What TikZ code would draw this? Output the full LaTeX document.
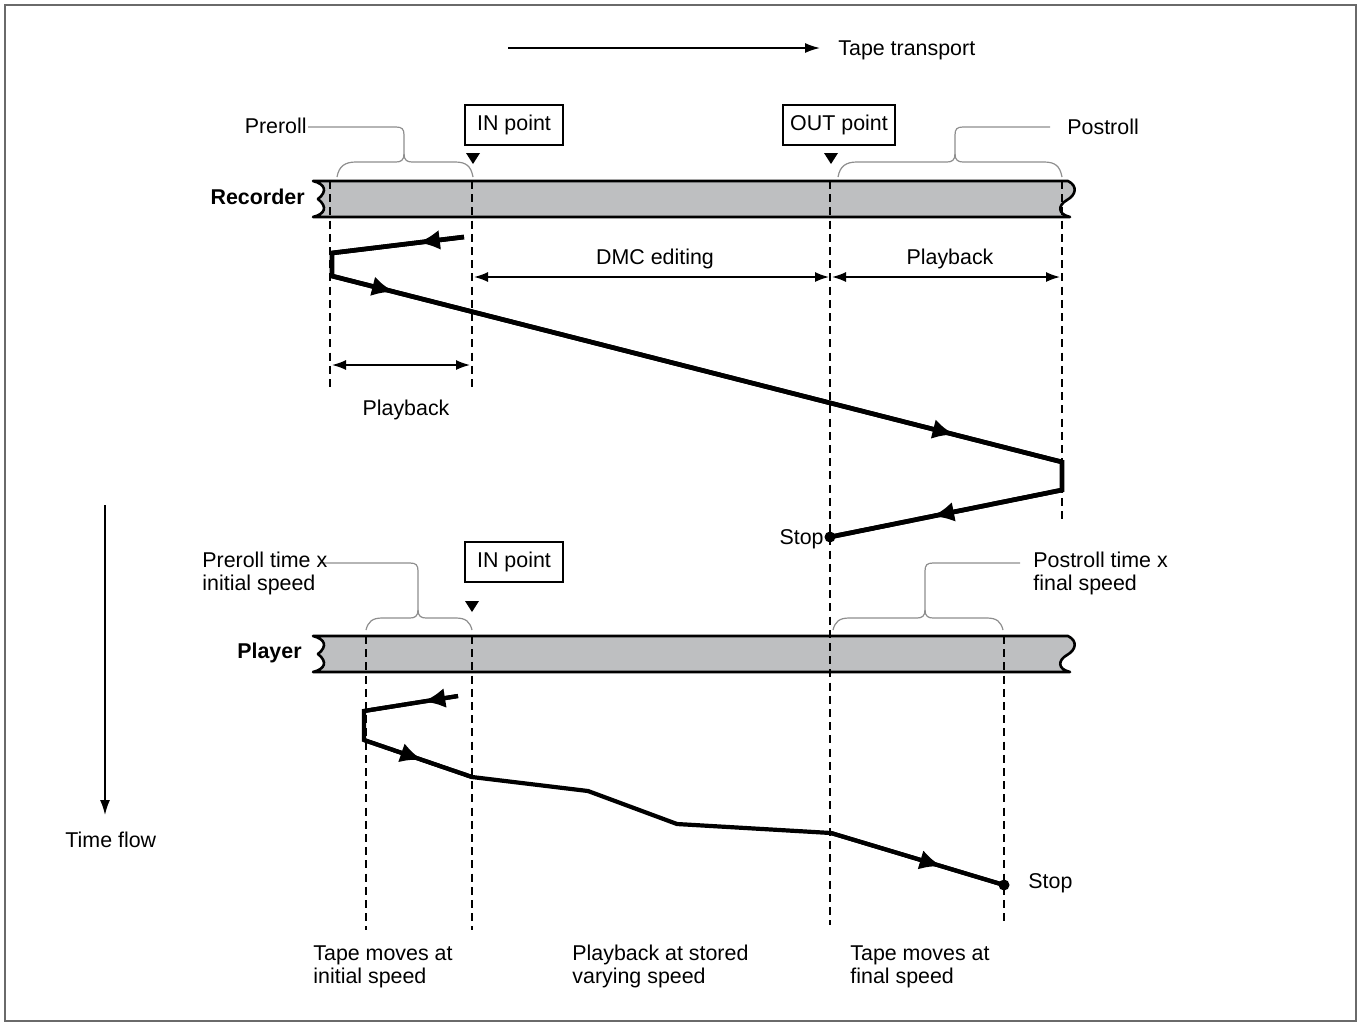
\documentclass[tikz,border=0pt]{standalone}
\usepackage{fontspec}
\setmainfont{Liberation Sans}
\usetikzlibrary{arrows.meta,decorations.markings}
\definecolor{tapegray}{HTML}{BEBFC1}
\definecolor{framegray}{HTML}{6A6A6A}
\definecolor{bracegray}{HTML}{8E8E8E}
\begin{document}
\begin{tikzpicture}[x=0.5pt,y=-0.5pt,
  txt/.style={inner sep=0pt,font=\fontsize{10.7}{12.8}\selectfont},
  lbl/.style={txt,anchor=base west},
  lblr/.style={txt,anchor=base east},
  lblc/.style={txt,anchor=base},
  boldlbl/.style={inner sep=0pt,anchor=base east,font=\fontsize{10.7}{12.8}\selectfont\bfseries},
  box/.style={draw,line width=0.6pt,inner sep=0pt,minimum height=20pt,font=\fontsize{10.7}{12.8}\selectfont},
  tape/.style={draw=black,fill=tapegray,line width=1.3pt,line join=round},
  guide/.style={draw=black,line width=0.9pt,dash pattern=on 4pt off 2.6pt},
  bracestyle/.style={draw=bracegray,line width=0.6pt},
  dim/.style={draw=black,line width=0.8pt,{Latex[length=7pt,width=5pt]}-{Latex[length=7pt,width=5pt]}},
  flow/.style={draw=black,line width=0.8pt,-{Latex[length=7.5pt,width=5pt]}},
  motion/.style={draw=black,line width=2.3pt,line join=miter},
  pmotion/.style={draw=black,line width=2.1pt,line join=miter},
  marker/.style={postaction={decorate,decoration={markings,mark=at position #1 with {\arrow{Latex[length=11pt,width=10pt]}}}}},
  tri/.style={fill=black}
]
\useasboundingbox (0,0) rectangle (1359,1024);
\draw[framegray,line width=1pt] (5,5) rectangle (1356,1021);

% tape transport arrow
\coordinate (tt0) at (508,48);
\coordinate (tt1) at (820,48);
\draw[flow] (tt0) -- (tt1);
\node[lbl] (tt) at (838,55.5) {Tape transport};

% tapes
\foreach \yy in {181,636}{
  \draw[tape] (313,\yy) -- (1068,\yy)
    .. controls (1078,{\yy+5}) and (1076,{\yy+14}) .. (1067,{\yy+19})
    .. controls (1058,{\yy+24}) and (1057,{\yy+33}) .. (1070,{\yy+36})
    -- (313,{\yy+36})
    .. controls (325,{\yy+33}) and (328,{\yy+26}) .. (318,{\yy+18})
    .. controls (328,{\yy+10}) and (325,{\yy+3}) .. (313,\yy) -- cycle;
}
\node[boldlbl] (rec) at (305,204.5) {Recorder};
\node[boldlbl] (ply) at (302,658.5) {Player};

% guide lines
\coordinate (ga0) at (330,181);  \coordinate (ga1) at (330,390);
\coordinate (gb0) at (472,181);  \coordinate (gb1) at (472,390);
\coordinate (gc0) at (830,181);  \coordinate (gc1) at (830,925);
\coordinate (gd0) at (1062,181); \coordinate (gd1) at (1062,520);
\coordinate (ge0) at (366,636);  \coordinate (ge1) at (366,930);
\coordinate (gf0) at (472,636);  \coordinate (gf1) at (472,930);
\coordinate (gg0) at (1004,636); \coordinate (gg1) at (1004,925);
\draw[guide] (ga0) -- (ga1);
\draw[guide] (gb0) -- (gb1);
\draw[guide] (gc0) -- (gc1);
\draw[guide] (gd0) -- (gd1);
\draw[guide] (ge0) -- (ge1);
\draw[guide] (gf0) -- (gf1);
\draw[guide] (gg0) -- (gg1);

% boxes and triangles
\node[box,minimum width=49pt] (inr) at (514,125) {IN point};
\node[box,minimum width=56pt] (outr) at (839,125) {OUT point};
\node[box,minimum width=49pt] (inp) at (514,562) {IN point};
\fill[tri] (466,153) -- (480,153) -- (473,164) -- cycle;
\fill[tri] (824,153) -- (838,153) -- (831,164) -- cycle;
\fill[tri] (465,601) -- (479,601) -- (472,612) -- cycle;

% braces with leaders
\draw[bracestyle] (337,177) .. controls (339,166) and (345,162) .. (356,162) -- (396,162)
  .. controls (401,162) and (404,160) .. (404,154) -- (404,135)
  .. controls (404,129) and (402,127) .. (396,127) -- (308,127);
\draw[bracestyle] (404,154) .. controls (404,160) and (407,162) .. (412,162) -- (455,162)
  .. controls (466,162) and (471,166) .. (473,177);
\node[lblr] (pre) at (307,133.5) {Preroll};

\draw[bracestyle] (838,177) .. controls (840,166) and (846,162) .. (857,162) -- (947,162)
  .. controls (952,162) and (955,160) .. (955,154) -- (955,135)
  .. controls (955,129) and (957,127) .. (963,127) -- (1050,127);
\draw[bracestyle] (955,154) .. controls (955,160) and (958,162) .. (963,162) -- (1044,162)
  .. controls (1055,162) and (1060,166) .. (1062,177);
\node[lbl] (post) at (1067,134.5) {Postroll};

\draw[bracestyle] (366,630) .. controls (368,622) and (372,618) .. (382,618) -- (410,618)
  .. controls (415,618) and (418,616) .. (418,610) -- (418,571)
  .. controls (418,565) and (416,563) .. (410,563) -- (320,563);
\draw[bracestyle] (418,610) .. controls (418,616) and (421,618) .. (426,618) -- (456,618)
  .. controls (466,618) and (470,622) .. (472,630);
\node[lbl] (pret1) at (202,567.5) {Preroll time x};
\node[lbl] (pret2) at (202,590.5) {initial speed};

\draw[bracestyle] (833,630) .. controls (835,622) and (839,618) .. (849,618) -- (917,618)
  .. controls (922,618) and (925,616) .. (925,610) -- (925,571)
  .. controls (925,565) and (927,563) .. (933,563) -- (1020,563);
\draw[bracestyle] (925,610) .. controls (925,616) and (928,618) .. (933,618) -- (987,618)
  .. controls (997,618) and (1001,622) .. (1003,630);
\node[lbl] (postt1) at (1033,567.5) {Postroll time x};
\node[lbl] (postt2) at (1033,590.5) {final speed};

% dimension arrows
\coordinate (d1a) at (474,277); \coordinate (d1b) at (829,277);
\coordinate (d2a) at (832,277); \coordinate (d2b) at (1060,277);
\coordinate (d3a) at (332,365); \coordinate (d3b) at (470,365);
\draw[dim] (d1a) -- (d1b);
\draw[dim] (d2a) -- (d2b);
\draw[dim] (d3a) -- (d3b);
\node[lblc] (dmc) at (655,264.5) {DMC editing};
\node[lblc] (pb1) at (950,264.5) {Playback};
\node[lblc] (pb2) at (406,415.5) {Playback};

% recorder motion
\coordinate (r0) at (464,237);
\coordinate (r1) at (332,253);
\coordinate (r2) at (332,276);
\coordinate (r3) at (1062,462);
\coordinate (r4) at (1062,490);
\coordinate (r5) at (830,537);
\draw[motion] (r0) -- (r1) -- (r2) -- (r3) -- (r4) -- (r5);
\draw[motion,marker=0.35] (r0) -- (r1);
\draw[motion,marker=0.085,marker=0.853] (r2) -- (r3);
\draw[motion,marker=0.56] (r4) -- (r5);
\fill (r5) circle (5.5);
\node[lblr] (stop1) at (824,544.5) {Stop};

% player motion
\coordinate (p0) at (458,696);
\coordinate (p1) at (364,711);
\coordinate (p2) at (364,740);
\coordinate (p3) at (472,777);
\coordinate (p4) at (588,791);
\coordinate (p5) at (677,824);
\coordinate (p6) at (831,833);
\coordinate (p7) at (1004,885);
\draw[pmotion] (p0) -- (p1) -- (p2) -- (p3) -- (p4) -- (p5) -- (p6) -- (p7);
\draw[pmotion,marker=0.37] (p0) -- (p1);
\draw[pmotion,marker=0.54] (p2) -- (p3);
\draw[pmotion,marker=0.64] (p6) -- (p7);
\fill (p7) circle (5.5);
\node[lbl] (stop2) at (1028,888.5) {Stop};

% time flow
\coordinate (tf0) at (105,505);
\coordinate (tf1) at (105,815);
\draw[flow] (tf0) -- (tf1);
\node[lbl] (tfl) at (65,847.5) {Time flow};

% bottom captions
\node[lbl] (c1a) at (313,960.5) {Tape moves at};
\node[lbl] (c1b) at (313,983.5) {initial speed};
\node[lbl] (c2a) at (572,960.5) {Playback at stored};
\node[lbl] (c2b) at (572,983.5) {varying speed};
\node[lbl] (c3a) at (850,960.5) {Tape moves at};
\node[lbl] (c3b) at (850,983.5) {final speed};
\end{tikzpicture}
\end{document}
